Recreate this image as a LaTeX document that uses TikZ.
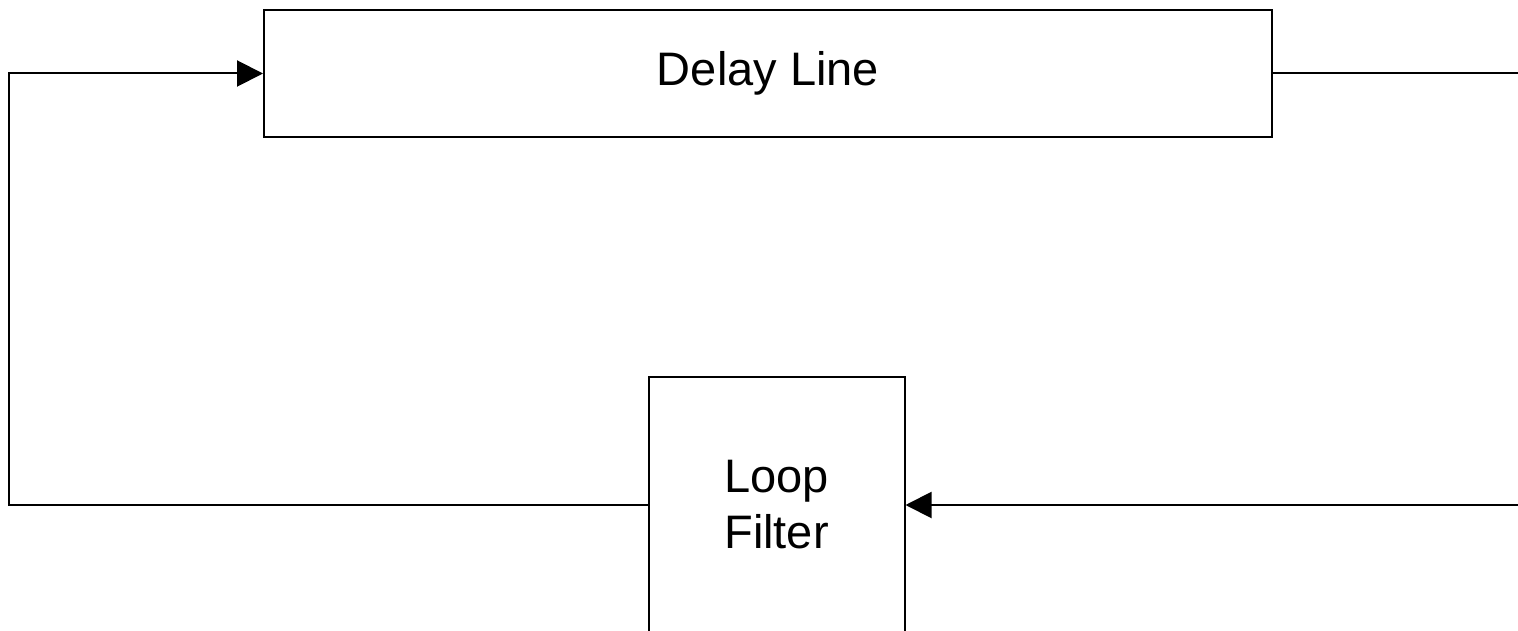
\documentclass[tikz,border=0pt]{standalone}
\usepackage{fontspec}
\setmainfont{Liberation Sans}
\usetikzlibrary{arrows.meta}
\begin{document}
\begin{tikzpicture}[x=1pt,y=-1pt,
  blockbox/.style={draw=black,line width=2pt,rectangle,inner sep=0pt,
    font=\fontsize{47}{56}\selectfont,align=center},
  wire/.style={draw=black,line width=2pt},
  headed/.style={wire,-{Triangle[length=26pt,width=26pt]}}]
\useasboundingbox (0,0) rectangle (1518,631);

% processing blocks
\node[blockbox,minimum width=1008pt,minimum height=127pt] (delay) at (768,73.5) {Delay Line};
\node[blockbox,minimum width=256pt,minimum height=256pt] (loop) at (776.5,505) {Loop\\Filter};

% loop corners and open ends
\coordinate (lb) at (9,505);
\coordinate (rt) at (1518,73.5);
\coordinate (rb) at (1518,505);

% feedback path
\draw[headed] (loop.west) -- (lb) |- (delay.west);
\draw[wire] (delay.east) -- (rt);
\draw[headed] (rb) -- (loop.east);
\end{tikzpicture}
\end{document}
